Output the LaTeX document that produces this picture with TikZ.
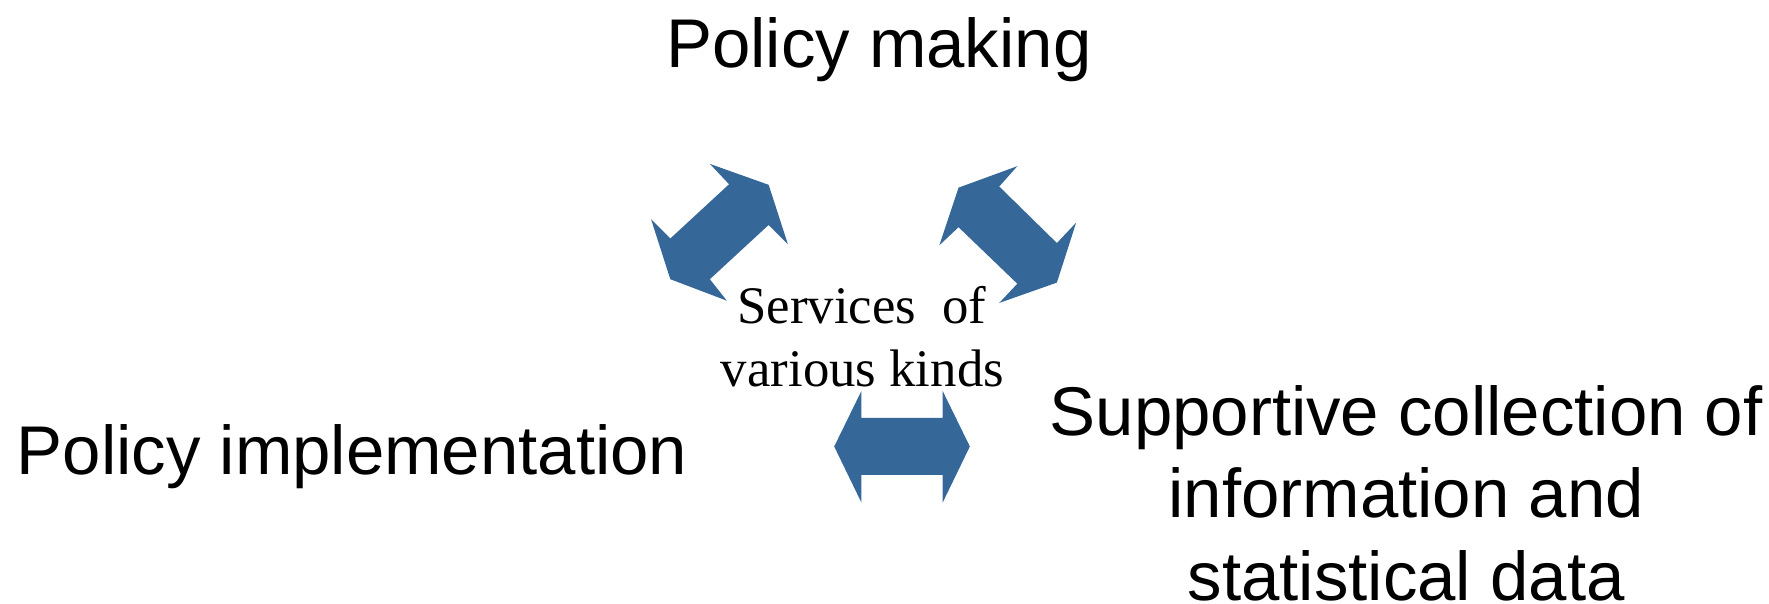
\documentclass[tikz,border=0pt]{standalone}
\usepackage{fontspec}
\setmainfont{Liberation Sans}
\newfontfamily\serifface{Liberation Serif}
\definecolor{arrowblue}{RGB}{53,103,152}
\begin{document}
\begin{tikzpicture}[x=1pt,y=-1pt,
  bigtext/.style={inner sep=0pt,anchor=base,font=\fontsize{61}{73}\selectfont},
  smalltext/.style={inner sep=0pt,anchor=base,font=\serifface\fontsize{46.7}{56}\selectfont},
  blockarrow/.style={fill=arrowblue}]
\useasboundingbox (0,0) rectangle (1565,533.5);
% texts
\node[bigtext] (making) at (777.5,59.6) {Policy making};
\node[bigtext] (impl) at (311.5,419.6) {Policy implementation};
\node[bigtext] (sup1) at (1244,385) {Supportive collection of};
\node[bigtext] (sup2) at (1244,458) {information and};
\node[bigtext] (sup3) at (1244,531) {statistical data};
\node[smalltext] (serv1) at (762.5,286) {Services\ \ of};
\node[smalltext] (serv2) at (763,342) {various kinds};
% left diagonal double arrow
\fill[blockarrow] (628,145) -- (680,163.5) -- (697,216) -- (680,199) -- (628,247)
  -- (643,266) -- (593,247) -- (576,194) -- (593,211) -- (645,163) -- cycle;
% right diagonal double arrow
\fill[blockarrow] (900,147) -- (848,166) -- (831,217) -- (848,201) -- (900,251)
  -- (884,268) -- (935,250) -- (952,197) -- (935,215) -- (884,165) -- cycle;
% horizontal double arrow
\fill[blockarrow] (738,395) -- (762,346) -- (762,369.6) -- (834,369.6) -- (834,346)
  -- (858,395) -- (834,444.5) -- (834,420) -- (762,420) -- (762,444.5) -- cycle;
\end{tikzpicture}
\end{document}
